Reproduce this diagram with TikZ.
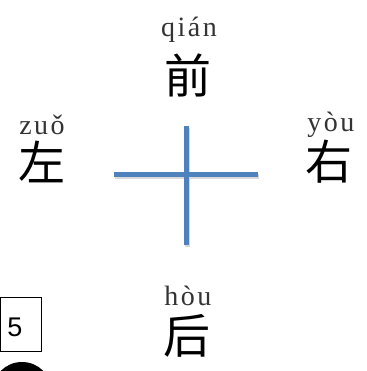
\documentclass[tikz,border=0pt]{standalone}
\usepackage{fontspec}
\setmainfont{Liberation Serif}
\newfontfamily\cjk{Noto Sans CJK SC}
\newfontfamily\pyfont[LetterSpace=9]{Liberation Serif}
\setsansfont{Liberation Sans}
\definecolor{crossblue}{HTML}{4F81BD}
\tikzset{
  hanzi/.style={font=\cjk\fontsize{47}{47}\selectfont, inner sep=0pt},
  pinyin/.style={font=\pyfont\fontsize{28}{28}\selectfont, inner sep=0pt, text=black!80},
  bar/.style={line width=5pt, crossblue},
  barshadow/.style={line width=5pt, black!15}
}
\begin{document}
\begin{tikzpicture}[x=1pt,y=-1pt]
\useasboundingbox (0,0) rectangle (366,371);
\clip (0,0) rectangle (366,371);
% pinyin
\node[pinyin] (pq) at (189,30) {qián};
\node[pinyin] (pz) at (42,125) {zuǒ};
\node[pinyin] (py) at (331,125) {yòu};
\node[pinyin] (ph) at (188,296) {hòu};
% hanzi
\node[hanzi] (hq) at (188,75) {前};
\node[hanzi] (hz) at (42,162) {左};
\node[hanzi] (hy) at (329,162) {右};
\node[hanzi] (hh) at (187,336) {后};
% cross
\coordinate (hl) at (114,174);
\coordinate (hr) at (258,174);
\coordinate (vt) at (186,126);
\coordinate (vb) at (186,245);
\draw[barshadow] ([shift={(1,2)}]hl) -- ([shift={(1,2)}]hr);
\draw[barshadow] ([shift={(1,2)}]vt) -- ([shift={(1,2)}]vb);
\draw[bar] (hl) -- (hr);
\draw[bar] (vt) -- (vb);
% box 5
\draw[line width=1pt] (0.5,297) rectangle (41,351);
\node[font=\sffamily\fontsize{27}{27}\selectfont, inner sep=0pt] (five) at (15,327) {5};
% black circle
\fill[black] (22,392) circle (30);
\end{tikzpicture}
\end{document}
